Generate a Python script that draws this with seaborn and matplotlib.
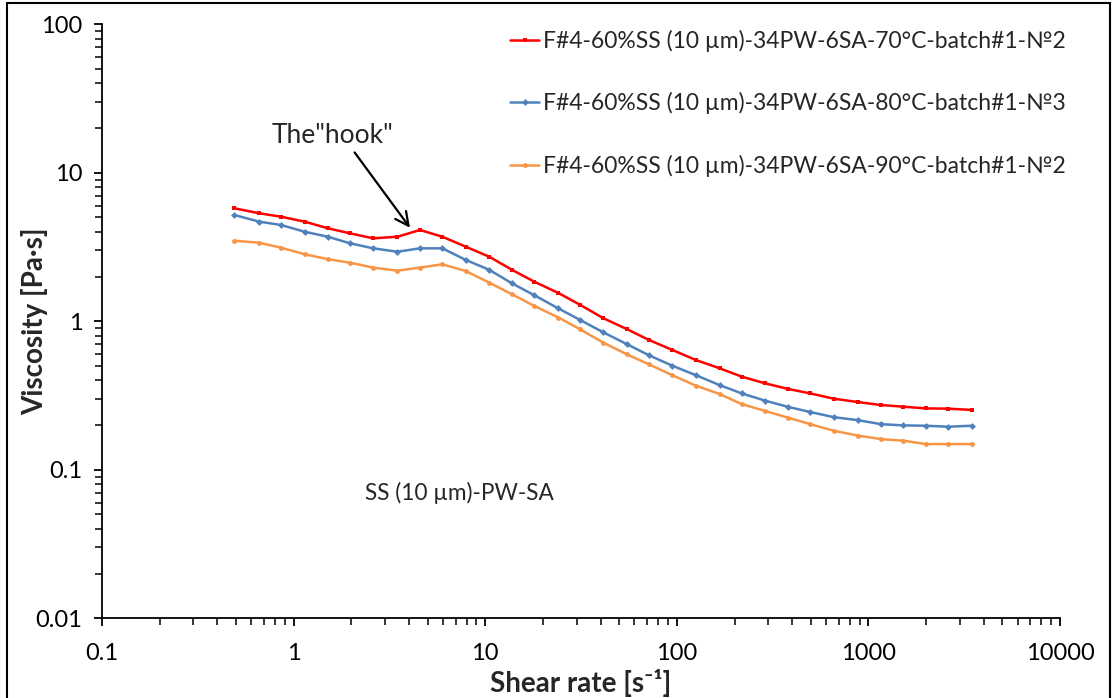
import numpy as np
import pandas as pd
import seaborn as sns
import matplotlib
matplotlib.use('Agg')
import matplotlib.pyplot as plt
from matplotlib.ticker import FixedLocator, FixedFormatter, LogLocator, NullFormatter
from matplotlib.patches import Rectangle

# data (shear rate in 1/s, viscosity in Pa·s)
shear_rate = [0.49, 0.66, 0.86, 1.14, 1.51, 1.97, 2.6, 3.48, 4.57, 5.97, 7.91,
              10.5, 13.8, 18.0, 24.1, 31.3, 41.3, 54.7, 71.6, 94.8, 126, 167,
              218, 289, 382, 496, 661, 879, 1160, 1520, 2000, 2610, 3460]
visc_70 = [5.77, 5.34, 5.06, 4.69, 4.23, 3.91, 3.62, 3.71, 4.12, 3.71, 3.18,
           2.72, 2.22, 1.85, 1.55, 1.29, 1.05, 0.887, 0.748, 0.641, 0.548, 0.483,
           0.424, 0.382, 0.350, 0.327, 0.301, 0.286, 0.273, 0.266, 0.259, 0.258, 0.253]
visc_80 = [5.20, 4.69, 4.45, 4.01, 3.71, 3.35, 3.10, 2.94, 3.10, 3.10, 2.59,
           2.22, 1.80, 1.50, 1.22, 1.02, 0.843, 0.703, 0.590, 0.502, 0.433, 0.372,
           0.327, 0.292, 0.265, 0.245, 0.226, 0.216, 0.203, 0.199, 0.198, 0.195, 0.198]
visc_90 = [3.49, 3.38, 3.13, 2.83, 2.62, 2.48, 2.30, 2.19, 2.30, 2.42, 2.18,
           1.82, 1.52, 1.27, 1.06, 0.883, 0.718, 0.600, 0.513, 0.433, 0.368, 0.324,
           0.277, 0.249, 0.224, 0.203, 0.183, 0.170, 0.161, 0.157, 0.149, 0.149, 0.149]

series_labels = ['F#4-60%SS (10 µm)-34PW-6SA-70°C-batch#1-№2',
                 'F#4-60%SS (10 µm)-34PW-6SA-80°C-batch#1-№3',
                 'F#4-60%SS (10 µm)-34PW-6SA-90°C-batch#1-№2']
colors = ['#FF0000', '#4F81BD', '#F79646']
markers = ['s', 'D', 'o']

x_ticks = [0.1, 1, 10, 100, 1000, 10000]
x_ticklabels = ['0.1', '1', '10', '100', '1000', '10000']
y_ticks = [0.01, 0.1, 1, 10, 100]
y_ticklabels = ['0.01', '0.1', '1', '10', '100']

sns.set_style('ticks')
plt.rcParams['font.family'] = ['Lato', 'DejaVu Sans']

fig = plt.figure(figsize=(11.15, 6.98), dpi=100)
ax = fig.add_axes([0.0915, 0.1142, 0.8592, 0.851])

for vals, lab, col, mk in zip([visc_70, visc_80, visc_90], series_labels, colors, markers):
    df = pd.DataFrame({'rate': shear_rate, 'visc': vals})
    sns.lineplot(data=df, x='rate', y='visc', ax=ax, color=col, label=lab,
                 marker=mk, markersize=3.5, markeredgewidth=0, linewidth=1.8)

ax.set_xscale('log')
ax.set_yscale('log')
ax.set_xlim(0.1, 10000)
ax.set_ylim(0.01, 100)

ax.xaxis.set_major_locator(FixedLocator(x_ticks))
ax.xaxis.set_major_formatter(FixedFormatter(x_ticklabels))
ax.yaxis.set_major_locator(FixedLocator(y_ticks))
ax.yaxis.set_major_formatter(FixedFormatter(y_ticklabels))
ax.xaxis.set_minor_locator(LogLocator(base=10, subs=np.arange(2, 10), numticks=20))
ax.yaxis.set_minor_locator(LogLocator(base=10, subs=np.arange(2, 10), numticks=20))
ax.xaxis.set_minor_formatter(NullFormatter())
ax.yaxis.set_minor_formatter(NullFormatter())
ax.tick_params(which='major', direction='out', length=6, width=1.3, labelsize=17,
               colors='black', pad=8)
ax.tick_params(axis='x', which='major', pad=12)
ax.tick_params(which='minor', direction='out', length=5, width=1.3)

sns.despine(ax=ax)
for s in ['left', 'bottom']:
    ax.spines[s].set_linewidth(1.3)
    ax.spines[s].set_color('black')

ax.set_xlabel('Shear rate [s⁻¹]', fontsize=20, fontweight='bold')
ax.set_ylabel('Viscosity [Pa·s]', fontsize=20, fontweight='bold')
ax.xaxis.set_label_coords(0.5, -0.085)
ax.yaxis.set_label_coords(-0.056, 0.5)

ax.legend(loc='upper left', bbox_to_anchor=(489 / 1115, 1 - 9 / 698),
          bbox_transform=fig.transFigure, frameon=False, fontsize=16.5,
          labelspacing=1.76, handlelength=1.3, handletextpad=0.15, numpoints=1)

# "hook" annotation
ax.annotate('', xy=(4.13, 4.12), xytext=(2.04, 14.2),
            arrowprops=dict(arrowstyle='->', color='black', lw=1.6, mutation_scale=24))
ax.text(0.177, 0.8136, 'The"hook"', transform=ax.transAxes, fontsize=19,
        ha='left', va='center')
ax.text(0.2745, 0.211, 'SS (10 µm)-PW-SA', transform=ax.transAxes, fontsize=16.3,
        ha='left', va='center')

# outer frame
fig.patches.append(Rectangle((7 / 1115, -0.02), 1103 / 1115, 1.02 - 3 / 698,
                             transform=fig.transFigure, fill=False,
                             edgecolor='black', linewidth=1.5))

fig.savefig('out.png', dpi=100)
